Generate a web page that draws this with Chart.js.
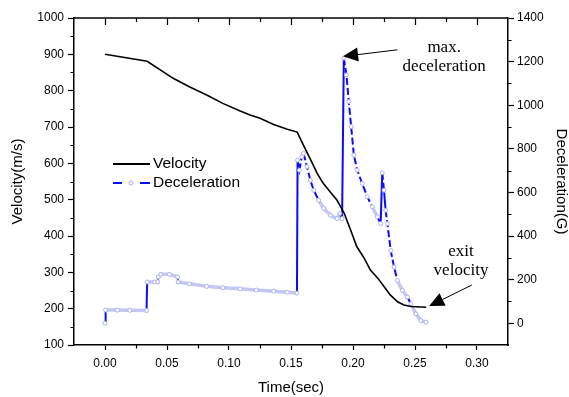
<html>
<head>
<script src="https://cdn.jsdelivr.net/npm/chart.js@4.4.0/dist/chart.umd.min.js"></script>
<style>body{margin:0;background:#fff}</style>
</head>
<body>
<div style="width:569px;height:397px"><canvas id="myChart" width="569" height="397"></canvas></div>
<script>
// velocity curve, left axis (m/s)
var velTime = [0, 0.034, 0.055, 0.068, 0.082, 0.095, 0.109, 0.117, 0.125, 0.136, 0.147, 0.155, 0.160, 0.166, 0.171, 0.176, 0.182, 0.187, 0.190, 0.193, 0.198, 0.203, 0.209, 0.214, 0.220, 0.225, 0.230, 0.236, 0.241, 0.247, 0.259];
var velocity = [900, 881, 834, 811, 788, 765, 744, 733, 724, 707, 694, 686, 650, 609, 573, 545, 520, 499, 481, 462, 417, 371, 339, 306, 284, 261, 238, 219, 210, 206, 204];

// deceleration curve, right axis (G)
var decTime = [0, 0.0005, 0.010, 0.020, 0.0335, 0.0340, 0.040, 0.0425, 0.0430, 0.045, 0.052, 0.0585, 0.0590, 0.068, 0.082, 0.095, 0.109, 0.122, 0.136, 0.147, 0.1548,
  0.1553, 0.1568, 0.1587, 0.1601, 0.1629, 0.1656, 0.1683, 0.1723, 0.1764, 0.1818, 0.1872, 0.1893, 0.1912,
  0.1926, 0.1947, 0.1966, 0.1985, 0.2007, 0.2034, 0.2074, 0.2115, 0.2155, 0.2196, 0.2223,
  0.2236, 0.2250, 0.2263, 0.2277, 0.2304, 0.2331, 0.2358, 0.2399, 0.2439, 0.2466, 0.2507, 0.2547, 0.2588];
var deceleration = [0, 60, 60, 59, 58, 189, 189, 190, 212, 224, 224, 212, 189, 181, 169, 163, 158, 152, 147, 142, 138,
  748, 702, 764, 779, 718, 656, 610, 564, 526, 495, 480, 503, 480,
  1216, 1139, 1017, 902, 771, 702, 641, 580, 534, 488, 457,
  690, 610, 518, 457, 334, 258, 196, 150, 120, 89, 43, 12, 5];

var timeTicks = [0, 0.05, 0.10, 0.15, 0.20, 0.25, 0.30];
var velTicks = [100, 200, 300, 400, 500, 600, 700, 800, 900, 1000];
var decTicks = [0, 200, 400, 600, 800, 1000, 1200, 1400];

var BLUE = '#0a0aff';
var LIGHT = '#c4c7f4';
var sans = 'Liberation Sans, Arial, sans-serif';
var serif = 'Liberation Serif, Times New Roman, serif';

function segDx(c) { return c.p1.x - c.p0.x; }
function segDy(c) { return Math.abs(c.p1.y - c.p0.y); }
function isVertical(c) { return segDy(c) > 12 * segDx(c); }
function isSteep(c) { return segDy(c) > 2 * segDx(c); }

// minor ticks, top border, legend and the two arrow notes
var extras = {
  id: 'extras',
  afterDatasetsDraw: function (chart) {
    var c = chart.ctx, a = chart.chartArea, s = chart.scales;
    c.save();
    c.strokeStyle = '#000';
    c.lineWidth = 1.5;
    c.beginPath(); c.moveTo(a.left, a.top); c.lineTo(a.right, a.top); c.stroke();

    c.lineWidth = 1.2;
    c.beginPath();
    for (var i = 0; i <= 12; i++) {
      var px = Math.round(s.x.getPixelForValue(i * 0.025)) + 0.5;
      var len = i % 2 == 0 ? 7 : 4;
      c.moveTo(px, a.top); c.lineTo(px, a.top + len);
      if (i % 2 == 1) { c.moveTo(px, a.bottom); c.lineTo(px, a.bottom + 3.5); }
    }
    for (var v = 150; v < 1000; v += 100) {
      var py = Math.round(s.y.getPixelForValue(v)) + 0.5;
      c.moveTo(a.left - 3.5, py); c.lineTo(a.left, py);
    }
    for (var d = 100; d < 1400; d += 200) {
      var py2 = Math.round(s.y1.getPixelForValue(d)) + 0.5;
      c.moveTo(a.right, py2); c.lineTo(a.right + 3.5, py2);
    }
    c.stroke();

    // legend
    var lx = 113, ly = 164;
    c.lineWidth = 1.8;
    c.strokeStyle = '#000';
    c.beginPath(); c.moveTo(lx, ly); c.lineTo(lx + 37, ly); c.stroke();
    c.strokeStyle = BLUE;
    c.beginPath(); c.moveTo(lx, ly + 19); c.lineTo(lx + 9, ly + 19);
    c.moveTo(lx + 27, ly + 19); c.lineTo(lx + 37, ly + 19); c.stroke();
    c.fillStyle = '#fff'; c.strokeStyle = '#aab1f0'; c.lineWidth = 1;
    c.beginPath(); c.arc(lx + 18, ly + 19, 2, 0, Math.PI * 2); c.fill(); c.stroke();
    c.fillStyle = '#000';
    c.font = '15.5px ' + sans;
    c.textBaseline = 'middle';
    c.textAlign = 'left';
    c.fillText('Velocity', lx + 40, ly);
    c.fillText('Deceleration', lx + 40, ly + 19);

    // notes
    c.font = '17px ' + serif;
    c.textAlign = 'center';
    var mx = s.x.getPixelForValue(0.2735), my = s.y1.getPixelForValue(1264);
    c.fillText('max.', mx, my);
    c.fillText('deceleration', mx, my + 18.5);
    var ex = s.x.getPixelForValue(0.2871), ey = s.y.getPixelForValue(357);
    c.fillText('exit', ex, ey);
    c.fillText('velocity', ex, ey + 19);

    arrow(c, s.x.getPixelForValue(0.2358), s.y1.getPixelForValue(1254),
             s.x.getPixelForValue(0.192), s.y1.getPixelForValue(1224));
    arrow(c, s.x.getPixelForValue(0.2958), s.y.getPixelForValue(265),
             s.x.getPixelForValue(0.2614), s.y.getPixelForValue(207));
    c.restore();
  }
};

function arrow(c, x0, y0, x1, y1) {
  var dx = x1 - x0, dy = y1 - y0, l = Math.sqrt(dx * dx + dy * dy);
  var ux = dx / l, uy = dy / l, hl = 15, hw = 7;
  var bx = x1 - ux * hl, by = y1 - uy * hl;
  c.strokeStyle = '#000'; c.lineWidth = 1;
  c.beginPath(); c.moveTo(x0, y0); c.lineTo(bx, by); c.stroke();
  c.fillStyle = '#000';
  c.beginPath();
  c.moveTo(x1, y1);
  c.lineTo(bx - uy * hw, by + ux * hw);
  c.lineTo(bx + uy * hw, by - ux * hw);
  c.closePath(); c.fill();
}

function setTicks(list) {
  return function (scale) { scale.ticks = list.map(function (v) { return { value: v }; }); };
}
function plain(v) { return String(v); }

var ctx = document.getElementById('myChart').getContext('2d');
var chart = new Chart(ctx, {
  type: 'line',
  data: {
    datasets: [{
      label: 'Velocity',
      data: velTime.map(function (t, i) { return { x: t, y: velocity[i] }; }),
      yAxisID: 'y',
      borderColor: '#000',
      borderWidth: 1.6,
      pointRadius: 0,
      tension: 0
    }, {
      label: 'Deceleration',
      data: decTime.map(function (t, i) { return { x: t, y: deceleration[i] }; }),
      yAxisID: 'y1',
      borderColor: BLUE,
      borderWidth: 2,
      pointRadius: 2,
      pointBorderWidth: 1,
      pointBorderColor: '#aab1f0',
      pointBackgroundColor: '#fff',
      tension: 0,
      segment: {
        borderColor: function (c) { return isSteep(c) ? BLUE : LIGHT; },
        borderWidth: function (c) { return isSteep(c) ? 2 : 3.5; },
        borderDash: function (c) { return isVertical(c) || !isSteep(c) ? [] : [7, 3]; }
      }
    }]
  },
  options: {
    responsive: false,
    animation: false,
    devicePixelRatio: 1,
    layout: { padding: { top: 18, left: 0, right: 0, bottom: 0 } },
    plugins: { legend: { display: false }, tooltip: { enabled: false } },
    scales: {
      x: {
        type: 'linear', min: -0.025, max: 0.325,
        afterBuildTicks: setTicks(timeTicks),
        afterFit: function (s) { s.height = 52; },
        grid: { drawOnChartArea: false, tickLength: 5, tickWidth: 1.2, tickColor: '#000' },
        border: { color: '#000', width: 1.5 },
        ticks: { color: '#000', padding: 6, maxRotation: 0, font: { family: sans, size: 12 },
          callback: function (v) { return v.toFixed(2); } },
        title: { display: true, text: 'Time(sec)', color: '#000', padding: 0,
          font: { family: sans, size: 15 } }
      },
      y: {
        position: 'left', min: 100, max: 1000,
        afterBuildTicks: setTicks(velTicks),
        afterFit: function (s) { s.width = 74; },
        grid: { drawOnChartArea: false, tickLength: 6, tickWidth: 1.2, tickColor: '#000' },
        border: { color: '#000', width: 1.5 },
        ticks: { color: '#000', padding: 4, font: { family: sans, size: 12 }, callback: plain },
        title: { display: true, text: 'Velocity(m/s)', color: '#000', padding: { top: 9, bottom: 0 },
          font: { family: sans, size: 15 } }
      },
      y1: {
        position: 'right', min: -100, max: 1400,
        afterBuildTicks: setTicks(decTicks),
        afterFit: function (s) { s.width = 61; },
        grid: { drawOnChartArea: false, tickLength: 6, tickWidth: 1.2, tickColor: '#000' },
        border: { color: '#000', width: 1.5 },
        ticks: { color: '#000', padding: 3, font: { family: sans, size: 12 }, callback: plain },
        title: { display: true, text: 'Deceleration(G)', color: '#000', padding: 0,
          font: { family: sans, size: 15, lineHeight: 1 } }
      }
    }
  },
  plugins: [extras]
});
</script>
</body>
</html>
